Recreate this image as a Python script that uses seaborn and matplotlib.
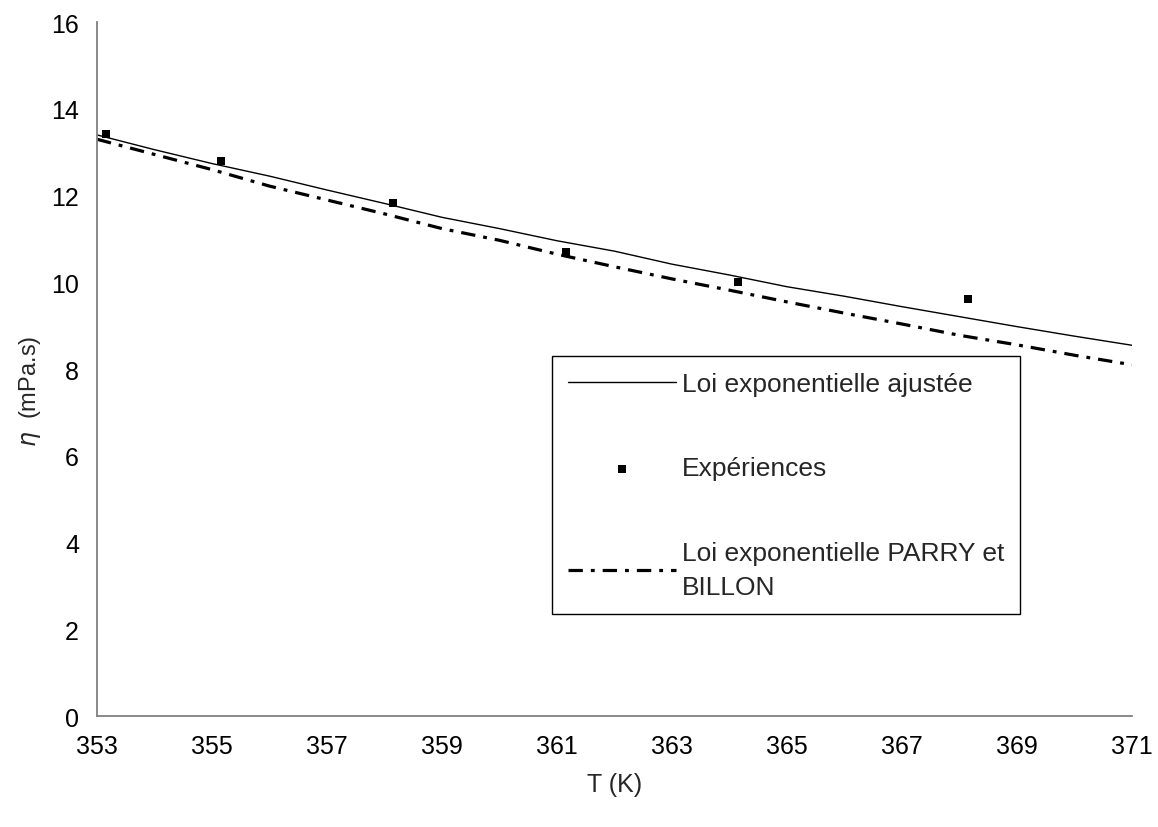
import matplotlib
matplotlib.use("Agg")
import matplotlib.pyplot as plt
import seaborn as sns
import pandas as pd

# courbes (T en K, viscosité en mPa.s)
t_courbe = [353, 354, 355, 356, 357, 358, 359, 360, 361, 362,
            363, 364, 365, 366, 367, 368, 369, 370, 371]
eta_ajustee = [13.40, 13.06, 12.74, 12.45, 12.13, 11.82, 11.50, 11.24, 10.96, 10.72,
               10.42, 10.17, 9.90, 9.68, 9.44, 9.21, 8.98, 8.76, 8.55]
eta_parry = [13.30, 12.95, 12.60, 12.22, 11.90, 11.58, 11.24, 10.97, 10.65, 10.36,
             10.08, 9.82, 9.55, 9.29, 9.04, 8.78, 8.56, 8.32, 8.10]

# points expérimentaux
t_exp = [353.15, 355.15, 358.15, 361.15, 364.15, 368.15]
eta_exp = [13.43, 12.81, 11.82, 10.71, 10.00, 9.61]

x_ticks = [353, 355, 357, 359, 361, 363, 365, 367, 369, 371]
y_ticks = [0, 2, 4, 6, 8, 10, 12, 14, 16]

courbes = pd.DataFrame({"T": t_courbe, "ajustee": eta_ajustee, "parry": eta_parry})
exp = pd.DataFrame({"T": t_exp, "eta": eta_exp})

sns.set_style("white")
plt.rcParams["font.family"] = ["Liberation Sans", "DejaVu Sans"]

fig = plt.figure(figsize=(11.58, 8.28), dpi=100)
ax = fig.add_axes([0.0838, 0.134, 0.8937, 0.838])

sns.lineplot(data=courbes, x="T", y="ajustee", ax=ax, color="black", linewidth=1.0,
             label="Loi exponentielle ajustée")
sns.scatterplot(data=exp, x="T", y="eta", ax=ax, color="black", marker="s", s=40,
                edgecolor="black", linewidth=0, label="Expériences", zorder=5)
sns.lineplot(data=courbes, x="T", y="parry", ax=ax, color="black", linewidth=2.3,
             linestyle=(0, (4.5, 2.5, 1.2, 2.5)),
             label="Loi exponentielle PARRY et\nBILLON")

ax.set_xlim(353, 371)
ax.set_ylim(0, 16)
ax.set_xticks(x_ticks)
ax.set_yticks(y_ticks)
ax.tick_params(axis="both", direction="out", length=7, width=1, color="#808080",
               labelsize=18, labelcolor="black", pad=6)
for side in ["top", "right"]:
    ax.spines[side].set_visible(False)
for side in ["left", "bottom"]:
    ax.spines[side].set_color("#808080")
    ax.spines[side].set_linewidth(1.3)

ax.set_xlabel("T (K)", fontsize=18, labelpad=10)
ax.set_ylabel(r"$\eta$  (mPa.s)", fontsize=17)
ax.yaxis.set_label_coords(-0.052, 0.47)

leg = ax.legend(loc="upper left", bbox_to_anchor=(0.44, 0.519), fontsize=19,
                frameon=True, fancybox=False, edgecolor="black", framealpha=1,
                handlelength=4.1, handletextpad=0.2, labelspacing=2.3,
                borderpad=0.6, borderaxespad=0)
leg.get_frame().set_linewidth(1.0)
for txt in leg.get_texts():
    txt.set_linespacing(1.5)

fig.savefig("out.png", dpi=100)
